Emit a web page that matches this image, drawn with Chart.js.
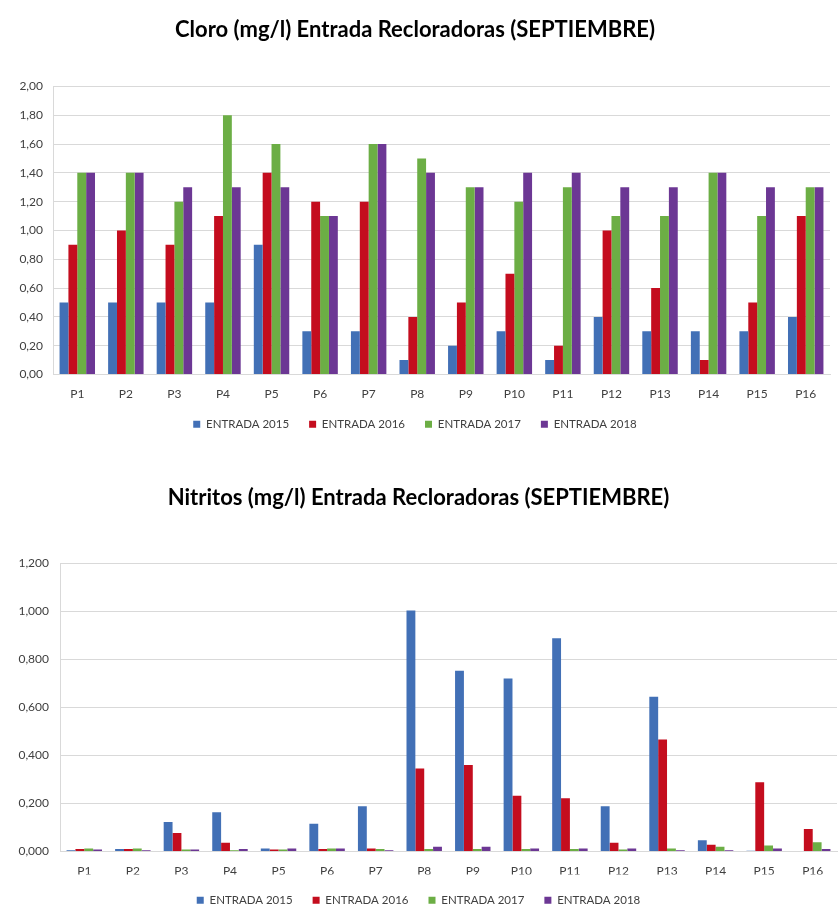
<!DOCTYPE html>
<html>
<head>
<meta charset="utf-8">
<script src="https://cdn.jsdelivr.net/npm/chart.js@4"></script>
<style>
  body { margin: 0; background: #fff; }
  .box { position: absolute; left: 0; width: 839px; }
  #top { top: 0; height: 440px; }
  #bottom { top: 455px; height: 451px; }
</style>
</head>
<body>
<div class="box" id="top"><canvas id="cloro"></canvas></div>
<div class="box" id="bottom"><canvas id="nitritos"></canvas></div>
<script>
// puntos de muestreo
const puntos = ['P1','P2','P3','P4','P5','P6','P7','P8','P9','P10','P11','P12','P13','P14','P15','P16'];
const series = ['ENTRADA 2015', 'ENTRADA 2016', 'ENTRADA 2017', 'ENTRADA 2018'];
const colores = ['#4270b6', '#c40d1e', '#6cae45', '#6c3794'];

// Cloro (mg/l)
const cloro2015 = [0.5, 0.5, 0.5, 0.5, 0.9, 0.3, 0.3, 0.1, 0.2, 0.3, 0.1, 0.4, 0.3, 0.3, 0.3, 0.4];
const cloro2016 = [0.9, 1.0, 0.9, 1.1, 1.4, 1.2, 1.2, 0.4, 0.5, 0.7, 0.2, 1.0, 0.6, 0.1, 0.5, 1.1];
const cloro2017 = [1.4, 1.4, 1.2, 1.8, 1.6, 1.1, 1.6, 1.5, 1.3, 1.2, 1.3, 1.1, 1.1, 1.4, 1.1, 1.3];
const cloro2018 = [1.4, 1.4, 1.3, 1.3, 1.3, 1.1, 1.6, 1.4, 1.3, 1.4, 1.4, 1.3, 1.3, 1.4, 1.3, 1.3];

// Nitritos (mg/l)
const nitri2015 = [0.005, 0.010, 0.123, 0.163, 0.012, 0.116, 0.188, 1.004, 0.753, 0.721, 0.888, 0.188, 0.645, 0.047, 0.003, 0.000];
const nitri2016 = [0.010, 0.010, 0.077, 0.036, 0.008, 0.010, 0.012, 0.346, 0.360, 0.232, 0.222, 0.036, 0.466, 0.028, 0.288, 0.094];
const nitri2017 = [0.012, 0.012, 0.008, 0.005, 0.008, 0.012, 0.010, 0.010, 0.010, 0.010, 0.010, 0.008, 0.012, 0.020, 0.025, 0.039];
const nitri2018 = [0.008, 0.005, 0.008, 0.010, 0.013, 0.012, 0.005, 0.020, 0.020, 0.012, 0.012, 0.012, 0.005, 0.005, 0.012, 0.010];

const fuente = 'Lato, "Open Sans", sans-serif';

function makeChart(id, titulo, valores, maxY, decimales, cfg) {
  const datasets = valores.map((v, i) => ({
    label: series[i],
    data: v,
    backgroundColor: colores[i],
    borderWidth: 0,
    categoryPercentage: 0.73,
    barPercentage: 1.0
  }));
  return new Chart(document.getElementById(id), {
    type: 'bar',
    data: { labels: puntos, datasets: datasets },
    options: {
      responsive: true,
      maintainAspectRatio: false,
      animation: false,
      layout: { padding: { left: 0, right: cfg.right, top: 0, bottom: cfg.bottom } },
      plugins: {
        title: {
          display: true,
          text: titulo,
          color: '#000',
          font: { family: fuente, size: 22, weight: 'bold' },
          padding: { top: cfg.title[0], bottom: cfg.title[1] }
        },
        legend: {
          position: 'bottom',
          labels: {
            boxWidth: 7,
            boxHeight: 7,
            padding: 20,
            color: '#404040',
            font: { family: fuente, size: 11.5 }
          }
        },
        tooltip: { enabled: false }
      },
      scales: {
        x: {
          grid: { display: false },
          border: { color: '#d9d9d9' },
          ticks: { color: '#404040', font: { family: fuente, size: 12 }, padding: 4 },
          afterFit: (s) => { s.height = cfg.xh; }
        },
        y: {
          min: 0,
          max: maxY,
          grid: { color: '#d9d9d9', drawTicks: false },
          border: { color: '#d9d9d9' },
          ticks: {
            stepSize: 0.2,
            color: '#404040',
            padding: cfg.tickPad,
            font: { family: fuente, size: 12 },
            callback: (v) => v.toFixed(decimales).replace('.', ',')
          },
          afterFit: (s) => { s.width = cfg.yw; }
        }
      }
    }
  });
}

makeChart('cloro', 'Cloro (mg/l) Entrada Recloradoras (SEPTIEMBRE)',
  [cloro2015, cloro2016, cloro2017, cloro2018], 2, 2,
  { yw: 53, xh: 24, title: [17, 43], right: 9, bottom: 0, tickPad: 10 });
makeChart('nitritos', 'Nitritos (mg/l) Entrada Recloradoras (SEPTIEMBRE)',
  [nitri2015, nitri2016, nitri2017, nitri2018], 1.2, 3,
  { yw: 60, xh: 23, title: [30, 52], right: 2, bottom: -10, tickPad: 11 });
</script>
</body>
</html>
